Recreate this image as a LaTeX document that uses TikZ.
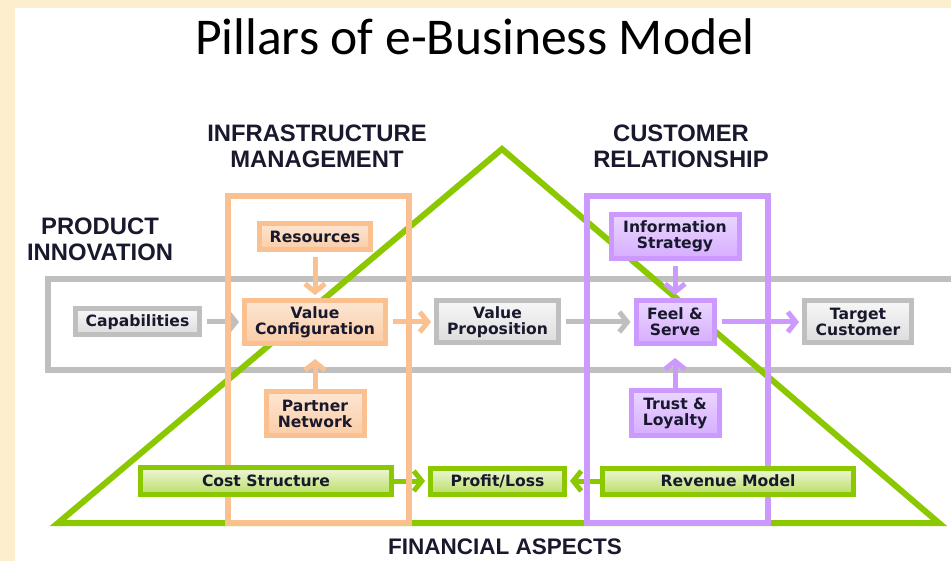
\documentclass[tikz,border=0pt]{standalone}
\usepackage{fontspec}
\usepackage{tikz}
\usetikzlibrary{arrows.meta}
\setmainfont{DejaVu Sans}
\newfontfamily\titlefont{Carlito}
\newfontfamily\headfont{Liberation Sans}
\definecolor{cream}{RGB}{253,239,206}
\definecolor{pgreen}{RGB}{140,200,0}
\definecolor{porange}{RGB}{250,192,144}
\definecolor{ppurple}{RGB}{204,153,255}
\definecolor{pgrey}{RGB}{191,191,191}
\definecolor{ink}{RGB}{25,25,45}
\pgfdeclarelayer{back}
\pgfdeclarelayer{frames}
\pgfsetlayers{back,frames,main}

\begin{document}
\begin{tikzpicture}[x=1pt,y=-1pt,
		box/.style={draw, line width=5pt, text=ink, align=center, inner sep=0pt, font=\fontsize{15.6}{16}\selectfont\bfseries},
		greybox/.style={box, draw=pgrey, top color=pgrey!12, bottom color=pgrey!55},
		orangebox/.style={box, draw=porange, top color=porange!40, bottom color=porange!80},
		purplebox/.style={box, draw=ppurple, top color=ppurple!40, bottom color=ppurple!80},
		greenbox/.style={box, draw=pgreen, top color=pgreen!15, bottom color=pgreen!60},
		head/.style={text=ink, align=center, anchor=north, inner sep=0pt, font=\headfont\fontsize{23.8}{26}\selectfont\bfseries},
		link/.style={line width=5pt, -{Straight Barb[length=8pt,width=20pt]}, shorten <=5pt, shorten >=3pt}]
	\useasboundingbox (0,0) rectangle (951,561);
	\begin{pgfonlayer}{back}
		\fill[cream] (0,0) rectangle (951,561);
		\fill[white] (15,8) rectangle (951,561);
		\draw[pgrey, line width=6pt] (48,279) rectangle (962,370);
		\draw[pgreen, line width=6pt, line join=miter] (58,523) -- (502,149) -- (939,523) -- cycle;
	\end{pgfonlayer}
	\begin{pgfonlayer}{frames}
		\draw[porange, line width=6pt] (228,196) rectangle (409,523);
		\draw[ppurple, line width=6pt] (587,196) rectangle (768,523);
	\end{pgfonlayer}
	\node[font=\titlefont\fontsize{51.6}{56}\selectfont, anchor=base] (title) at (475,55) {Pillars of e-Business Model};
	\node[head] (infra) at (317,125) {INFRASTRUCTURE\\MANAGEMENT};
	\node[head] (custrel) at (681,125) {CUSTOMER\\RELATIONSHIP};
	\node[head] (prodinno) at (100,218) {PRODUCT\\INNOVATION};
	\node[head, font=\headfont\fontsize{22.5}{24}\selectfont\bfseries] (finasp) at (505,539) {FINANCIAL ASPECTS};
	\node[greybox, minimum width=124pt, minimum height=26pt] (cap) at (137.5,322) {Capabilities};
	\node[orangebox, minimum width=141pt, minimum height=43pt] (vconf) at (315,322) {Value\\Configuration};
	\node[orangebox, minimum width=111pt, minimum height=26pt] (res) at (315,236.5) {Resources};
	\node[orangebox, minimum width=98pt, minimum height=44pt] (partner) at (315,413.5) {Partner\\Network};
	\node[greybox, minimum width=122pt, minimum height=42pt] (vprop) at (497.5,322) {Value\\Proposition};
	\node[purplebox, minimum width=78pt, minimum height=43pt] (feel) at (675,322) {Feel \&\\Serve};
	\node[purplebox, minimum width=128pt, minimum height=44pt] (info) at (675,236.5) {Information\\Strategy};
	\node[purplebox, minimum width=88pt, minimum height=45pt] (trust) at (675,413) {Trust \&\\Loyalty};
	\node[greybox, minimum width=107pt, minimum height=42pt] (target) at (858,322) {Target\\Customer};
	\node[greenbox, minimum width=251pt, minimum height=27pt] (cost) at (266,481) {Cost Structure};
	\node[greenbox, minimum width=134pt, minimum height=26pt] (profit) at (497.5,481) {Profit/Loss};
	\node[greenbox, minimum width=251pt, minimum height=26pt] (revenue) at (728,481) {Revenue Model};
	\begin{pgfonlayer}{back}
		\draw[link, pgrey] (cap) -- (vconf);
		\draw[link, porange] (vconf) -- (vprop);
		\draw[link, pgrey] (vprop) -- (feel);
		\draw[link, ppurple] (feel) -- (target);
		\draw[link, porange] (res) -- (vconf);
		\draw[link, porange, shorten <=0pt, shorten >=13pt] (partner) -- (vconf);
		\draw[link, ppurple] (info) -- (feel);
		\draw[link, ppurple, shorten <=0pt, shorten >=12pt] (trust) -- (feel);
		\draw[link, pgreen, shorten <=0pt] (cost) -- (profit);
		\draw[link, pgreen, shorten <=0pt] (revenue) -- (profit);
	\end{pgfonlayer}
\end{tikzpicture}
\end{document}
